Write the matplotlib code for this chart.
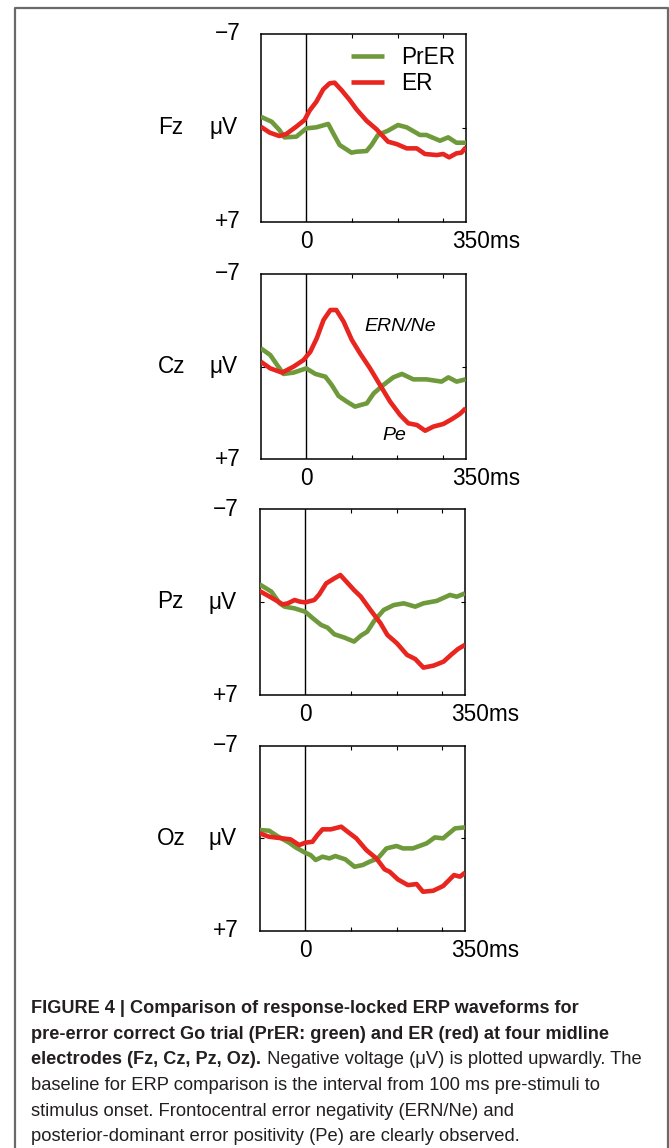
import matplotlib
matplotlib.use('Agg')
import matplotlib.pyplot as plt
from matplotlib.lines import Line2D

W, H, DPI = 669, 1148, 100

# ---------------- data ----------------
electrodes = ['Fz', 'Cz', 'Pz', 'Oz']
series_labels = ['PrER', 'ER']
x_tick_labels = ['0', '350ms']
y_top_label, y_mid_label, y_bot_label = '\u22127', 'μV', '+7'
x_limits = [-100, 350]
y_limits = [7, -7]          # negative plotted upward
x_minor_ticks = [100, 200, 300]

fz_prer_t = [-100, -76, -59, -48, -22, 0, 22, 48, 59, 73, 99, 110, 132, 143, 157, 179, 201, 220, 249, 263, 293, 311, 329, 350]
fz_prer_v = [-0.83, -0.46, 0.16, 0.71, 0.66, 0.04, -0.04, -0.29, 0.41, 1.28, 1.85, 1.78, 1.73, 1.28, 0.53, 0.21, -0.21, -0.04, 0.53, 0.53, 0.96, 0.71, 1.11, 1.11]
fz_er_t = [-100, -80, -59, -44, -22, -4, 7, 22, 37, 51, 62, 77, 95, 110, 132, 154, 179, 198, 220, 242, 260, 286, 300, 313, 329, 340, 350]
fz_er_v = [-0.09, 0.36, 0.61, 0.46, -0.09, -0.58, -1.28, -1.95, -2.87, -3.32, -3.37, -2.82, -2.08, -1.38, -0.53, 0.11, 1.03, 1.21, 1.53, 1.53, 1.95, 2.03, 1.95, 2.2, 1.9, 1.85, 1.45]

cz_prer_t = [-100, -79, -64, -50, -28, 0, 20, 42, 56, 71, 89, 107, 133, 148, 169, 191, 210, 235, 264, 297, 312, 330, 350]
cz_prer_v = [-1.39, -0.88, -0.13, 0.55, 0.45, 0.13, 0.55, 0.76, 1.39, 2.22, 2.64, 3.02, 2.77, 2.02, 1.39, 0.81, 0.55, 0.96, 0.96, 1.13, 0.81, 1.13, 0.96]
cz_er_t = [-100, -79, -53, -28, -6, 9, 23, 38, 53, 66, 82, 100, 118, 140, 162, 184, 206, 224, 243, 261, 279, 301, 319, 337, 350]
cz_er_v = [-0.38, 0.13, 0.45, 0.0, -0.5, -1.13, -2.14, -3.53, -4.28, -4.28, -3.4, -2.02, -1.01, 0.13, 1.39, 2.64, 3.65, 4.28, 4.41, 4.84, 4.53, 4.33, 3.98, 3.58, 3.15]

pz_prer_t = [-100, -74, -56, -45, -23, 0, 17, 35, 49, 64, 86, 107, 122, 136, 151, 172, 194, 216, 241, 259, 288, 317, 332, 350]
pz_prer_v = [-1.33, -0.78, 0.1, 0.35, 0.48, 0.73, 1.23, 1.73, 1.93, 2.43, 2.68, 2.98, 2.53, 2.23, 1.43, 0.6, 0.23, 0.1, 0.35, 0.1, -0.08, -0.53, -0.4, -0.65]
pz_er_t = [-100, -74, -49, -38, -23, -12, 0, 20, 31, 46, 64, 77, 89, 107, 122, 143, 165, 180, 201, 223, 241, 259, 281, 303, 321, 335, 350]
pz_er_v = [-0.83, -0.33, 0.18, 0.1, -0.15, -0.03, 0.03, -0.15, -0.58, -1.4, -1.78, -2.03, -1.58, -0.9, -0.4, 0.6, 1.6, 2.48, 3.11, 3.98, 4.29, 4.94, 4.79, 4.49, 3.93, 3.53, 3.23]

oz_prer_t = [-100, -79, -61, -35, -21, 0, 12, 23, 38, 53, 66, 88, 108, 126, 141, 159, 178, 200, 214, 236, 266, 284, 302, 328, 350]
oz_prer_v = [-0.62, -0.57, -0.16, 0.34, 0.69, 1.1, 1.28, 1.65, 1.4, 1.53, 1.35, 1.6, 2.16, 2.03, 1.78, 1.53, 0.77, 0.59, 0.77, 0.77, 0.39, -0.06, 0.01, -0.74, -0.82]
oz_er_t = [-100, -79, -50, -32, -13, 0, 16, 27, 38, 56, 79, 93, 112, 134, 156, 174, 185, 203, 225, 244, 258, 280, 302, 326, 339, 350]
oz_er_v = [-0.37, -0.11, 0.01, 0.09, 0.52, 0.34, 0.27, -0.24, -0.67, -0.67, -0.87, -0.49, 0.01, 0.9, 1.53, 2.36, 2.54, 3.12, 3.55, 3.47, 4.05, 3.98, 3.62, 2.79, 2.91, 2.61]

prer_times = [fz_prer_t, cz_prer_t, pz_prer_t, oz_prer_t]
prer_values = [fz_prer_v, cz_prer_v, pz_prer_v, oz_prer_v]
er_times = [fz_er_t, cz_er_t, pz_er_t, oz_er_t]
er_values = [fz_er_v, cz_er_v, pz_er_v, oz_er_v]

caption_lines = [
    [("FIGURE 4 | Comparison of response-locked ERP waveforms for", 'bold')],
    [("pre-error correct Go trial (PrER: green) and ER (red) at four midline", 'bold')],
    [("electrodes (Fz, Cz, Pz, Oz).", 'bold'), (" Negative voltage (\u03bcV) is plotted upwardly. The", 'normal')],
    [("baseline for ERP comparison is the interval from 100 ms pre-stimuli to", 'normal')],
    [("stimulus onset. Frontocentral error negativity (ERN/Ne) and", 'normal')],
    [("posterior-dominant error positivity (Pe) are clearly observed.", 'normal')],
]

# ---------------- style ----------------
GREEN = '#6f9a3b'
RED = '#e8251f'
LABEL_FONT = ['Liberation Sans', 'DejaVu Sans']
plt.rcParams['font.family'] = LABEL_FONT
CAP_FONT = ['Liberation Sans', 'DejaVu Sans']

fig = plt.figure(figsize=(W / DPI, H / DPI), dpi=DPI)

# panel rectangles in pixels: (left, top, right, bottom)
panel_px = [(260.7, 34.0, 466.0, 221.7),
            (260.7, 274.0, 465.7, 459.3),
            (259.5, 509.0, 465.0, 695.0),
            (259.5, 745.7, 465.0, 930.7)]

for i, name in enumerate(electrodes):
    l, t, r, b = panel_px[i]
    ax = fig.add_axes([l / W, 1 - b / H, (r - l) / W, (b - t) / H])
    ax.set_xlim(*x_limits)
    ax.set_ylim(*y_limits)
    ax.axvline(0, color='black', lw=1.0, zorder=1)
    ax.plot(prer_times[i], prer_values[i], color=GREEN, lw=3.3, label=series_labels[0],
            solid_joinstyle='round', solid_capstyle='butt', zorder=3)
    ax.plot(er_times[i], er_values[i], color=RED, lw=3.3, label=series_labels[1],
            solid_joinstyle='round', solid_capstyle='butt', zorder=4)
    ax.set_xticks(x_minor_ticks)
    ax.set_yticks([0])
    ax.tick_params(direction='in', length=3, width=0.8, top=True, right=True,
                   labelbottom=False, labelleft=False)
    for sp in ax.spines.values():
        sp.set_linewidth(1.1)
    fs = 16.3
    ax.text(-0.10, 1.0, y_top_label, transform=ax.transAxes, ha='right', va='center', fontsize=fs)
    ax.text(-0.10, 0.0, y_bot_label, transform=ax.transAxes, ha='right', va='center', fontsize=fs)
    ax.text(-0.113, 0.5, y_mid_label, transform=ax.transAxes, ha='right', va='center', fontsize=fs)
    ax.text(-0.50, 0.5, name, transform=ax.transAxes, ha='left', va='center', fontsize=fs)
    ax.text(0, -0.105, x_tick_labels[0], transform=ax.get_xaxis_transform(), ha='center', va='center', fontsize=fs)
    ax.text(1.10, -0.105, x_tick_labels[1], transform=ax.transAxes, ha='center', va='center', fontsize=fs)
    if i == 0:
        ax.legend(loc='upper left', bbox_to_anchor=(0.44, 0.937), frameon=False, fontsize=fs,
                  handlelength=1.45, handletextpad=0.75, labelspacing=0.15,
                  borderpad=0, borderaxespad=0)
    if i == 1:
        ax.text(0.508, 0.716, 'ERN/Ne', transform=ax.transAxes, ha='left', va='center',
                fontsize=14, style='italic')
        ax.text(0.596, 0.131, 'Pe', transform=ax.transAxes, ha='left', va='center',
                fontsize=14, style='italic')

# ---------------- frame ----------------
frame_col = '#6a6a6a'
fx = lambda px: px / W
fy = lambda py: 1 - py / H
fig.add_artist(Line2D([fx(14.5), fx(14.5), fx(667.5), fx(667.5)],
                      [fy(H + 5), fy(7.5), fy(7.5), fy(H + 5)],
                      color=frame_col, lw=1.6, transform=fig.transFigure))

# ---------------- caption ----------------
fig.canvas.draw()
renderer = fig.canvas.get_renderer()
cap_x0 = 31.5
cap_baselines = [1013.3, 1039.0, 1064.3, 1090.0, 1115.7, 1141.0]
cap_line_ends = [577, 610, 652, 607, 517, 519]   # right edge of each caption line (px)

def seg_width(txt, weight, size):
    t = fig.text(0, 0, txt, fontsize=size, fontweight=weight, family=CAP_FONT)
    w = t.get_window_extent(renderer=renderer).width
    t.remove()
    return w

# one size per weight, fitted so the single-style lines reach their widths
base = 10.0
bold_w = [seg_width(caption_lines[k][0][0], 'bold', base) for k in (0, 1)]
norm_w = [seg_width(caption_lines[k][0][0], 'normal', base) for k in (3, 4, 5)]
bold_t = [cap_line_ends[k] - cap_x0 for k in (0, 1)]
norm_t = [cap_line_ends[k] - cap_x0 for k in (3, 4, 5)]
size_bold = base * sum(a * b for a, b in zip(bold_w, bold_t)) / sum(a * a for a in bold_w)
size_norm = base * sum(a * b for a, b in zip(norm_w, norm_t)) / sum(a * a for a in norm_w)
sizes = {'bold': size_bold, 'normal': size_norm}

for line, yb in zip(caption_lines, cap_baselines):
    x = cap_x0
    for txt, weight in line:
        tt = fig.text(fx(x), fy(yb), txt, ha='left', va='baseline', fontsize=sizes[weight],
                      fontweight=weight, family=CAP_FONT, color='#231f20')
        x += tt.get_window_extent(renderer=renderer).width

fig.savefig('out.png', dpi=DPI)
